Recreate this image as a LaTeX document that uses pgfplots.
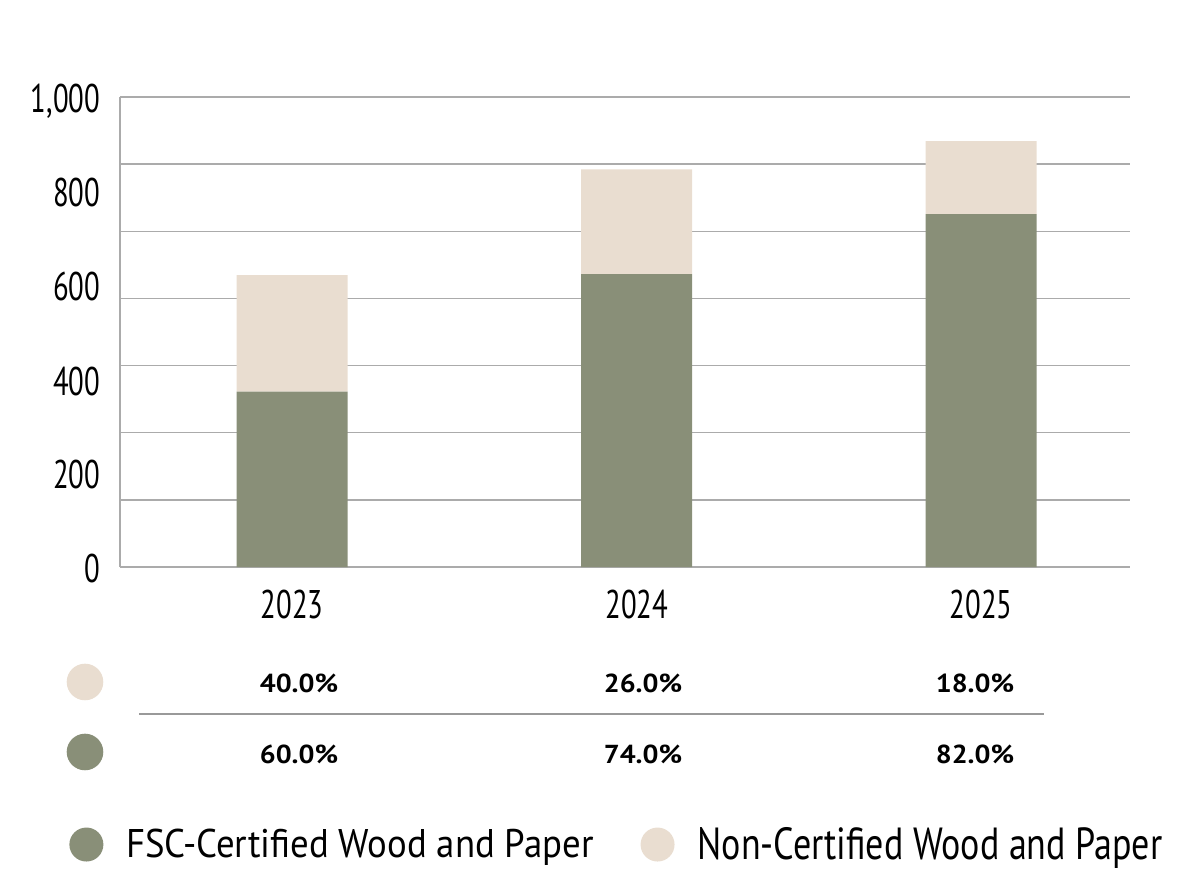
\documentclass[border=0pt]{standalone}
\usepackage{pgfplots}
\pgfplotsset{compat=1.18}
\usepackage{pgfplotstable}
\usepackage{fontspec}
\setmainfont{PT Sans}
\newfontfamily\tickfont{PT Sans}[FakeStretch=0.72]
\newfontfamily\legfonta{PT Sans}[FakeStretch=0.92]
\newfontfamily\legfontb{PT Sans}[FakeStretch=0.8]
\newfontfamily\pctfont{PT Sans}[FakeStretch=1.08]
\definecolor{fsc}{HTML}{898F78}
\definecolor{noncert}{HTML}{E9DDD0}
\definecolor{gridc}{HTML}{ABABAB}
\definecolor{rulec}{HTML}{999999}

\pgfplotstableread{
x fsc non
0 373 248
1 623 223
2 751 155
}\datatab

\begin{document}
\begin{tikzpicture}
\path[use as bounding box] (-60pt,-152.5pt) rectangle (537.5pt,283.5pt);
\begin{axis}[
 at={(0,0)}, anchor=south west,
 scale only axis, width=505pt, height=235pt,
 ybar stacked, bar width=55.5pt,
 xmin=-0.5, xmax=2.432, ymin=0, ymax=1000,
 axis x line*=bottom, axis y line*=left,
 axis line style={gridc, line width=0.75pt, -},
 xtick={0,1,2}, xticklabels={2023,2024,2025},
 ytick={0,200,400,600,800,1000}, yticklabels={0,200,400,600,800,{1,000}},
 major tick length=0pt,
 extra y ticks={142.857,285.714,428.571,571.429,714.286,857.143,1000},
 extra y tick labels={},
 extra y tick style={ymajorgrids=true},
 major grid style={gridc, line width=0.75pt},
 tick label style={font=\tickfont\fontsize{20}{24}\selectfont, inner sep=0pt},
 xticklabel style={anchor=base, yshift=-25.5pt},
 yticklabel style={anchor=base east, xshift=-9.75pt, yshift=-8pt},
 legend columns=2,
 legend style={at={(-0.0505,-0.5905)}, anchor=west, draw=none, fill=none, inner sep=0pt,
   nodes={inner sep=0pt},
   /tikz/every odd column/.append style={column sep=11.5pt},
   /tikz/every even column/.append style={column sep=23.5pt}},
 legend cell align=left,
 clip=false,
]
\addplot[fill=fsc, draw=none, legend image code/.code={\fill[fsc] (8.5pt,0pt) circle (8.5pt);}] table[x=x,y=fsc]{\datatab};
\addplot[fill=noncert, draw=none, legend image code/.code={\fill[noncert] (8.5pt,0pt) circle (8.5pt);}] table[x=x,y=non]{\datatab};
\legend{{\legfonta\fontsize{20}{24}\selectfont FSC-Certified Wood and Paper},{\legfontb\fontsize{22.5}{27}\selectfont Non-Certified Wood and Paper}}
\end{axis}
\node[circle, fill=noncert, minimum size=18.3pt, inner sep=0pt] at (-17.5pt,-57.5pt) {};
\node[circle, fill=fsc, minimum size=18.3pt, inner sep=0pt] at (-17.5pt,-92.5pt) {};
\draw[rulec, line width=0.75pt] (9.5pt,-73.5pt) -- (462pt,-73.5pt);
\begin{scope}[every node/.style={anchor=base, inner sep=0pt, font=\pctfont\bfseries\fontsize{13}{15}\selectfont}]
\node at (89.5pt,-62.85pt) {40.0\%};
\node at (261.5pt,-62.85pt) {26.0\%};
\node at (427.5pt,-62.85pt) {18.0\%};
\node at (89.5pt,-98.15pt) {60.0\%};
\node at (261.5pt,-98.15pt) {74.0\%};
\node at (427.5pt,-98.15pt) {82.0\%};
\end{scope}
\end{tikzpicture}
\end{document}
